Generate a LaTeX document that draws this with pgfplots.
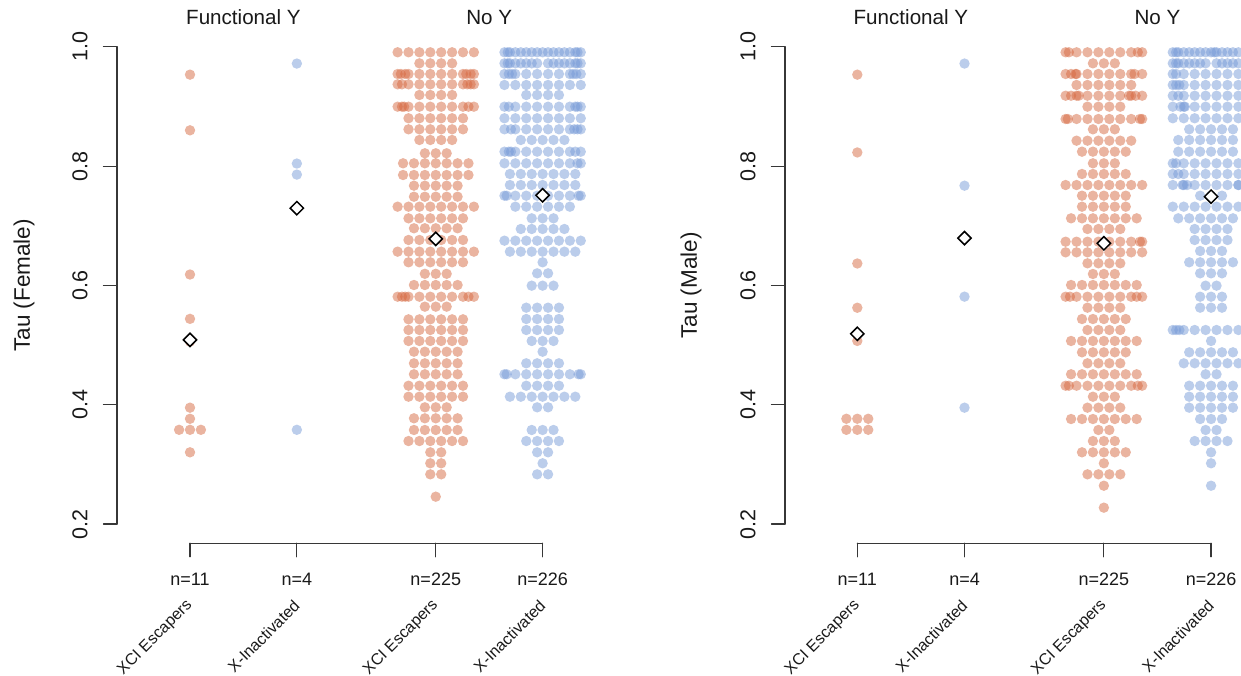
\documentclass[border=0pt]{standalone}
\usepackage{fontspec}
\setmainfont{Liberation Sans}
\usepackage{pgfplots}
\pgfplotsset{compat=1.18}
\definecolor{ora}{RGB}{214,105,65}
\definecolor{blu}{RGB}{120,155,215}
\definecolor{axc}{RGB}{55,55,55}
\definecolor{txt}{RGB}{25,25,25}
\pgfplotsset{
 panel/.style={scale only axis,width=620.5pt,height=675pt,ymin=-0.05297,ymax=1.07844,axis lines=none,clip marker paths=true},
 bee/.style={only marks,mark=*,mark size=5.2pt,mark options={draw opacity=0,line width=0pt,fill=#1,fill opacity=0.5}},
 grp/.style={x filter/.expression={#1+0.102*x}},
 meanmk/.style={only marks,mark=square*,mark size=4.7pt,mark options={rotate=45,fill=white,draw=black,line width=1.5pt}},
}
\tikzset{deco/.style={axc,line width=1.2pt,line cap=round}}
\newcommand\tfont{\fontsize{21.5pt}{24pt}\selectfont}
\newcommand\lfont{\fontsize{22.5pt}{26pt}\selectfont}
\newcommand\hfont{\fontsize{20.6pt}{24pt}\selectfont}
\newcommand\nfont{\fontsize{18pt}{20pt}\selectfont}
\newcommand\cfont{\fontsize{16pt}{18pt}\selectfont}
\begin{document}
\begin{tikzpicture}
%================ LEFT PANEL =================
\begin{axis}[panel,at={(0,0)},anchor=south west,xmin=-0.7782,xmax=5.0290]
\addplot[bee=ora,grp=1] coordinates {(0,.9533)(0,.8600)(0,.6183)(0,.5440)(0,.5060)(0,.3951)(0,.3765)(-1,.3580)(0,.3580)(1,.3580)(0,.3203)};
\addplot[bee=blu,grp=2] coordinates {(0,.9719)(0,.8043)(0,.7858)(0,.3580)};
\addplot[bee=ora,grp=3.3] coordinates {
(-3.5,.9908)(-2.5,.9908)(-1.5,.9908)(-.5,.9908)(.5,.9908)(1.5,.9908)(2.5,.9908)(3.5,.9908)
(-1.5,.9723)(-.5,.9723)(.5,.9723)(1.5,.9723)
(-3.5,.9544)(-2.5,.9544)(-1.5,.9544)(-.5,.9544)(.5,.9544)(1.5,.9544)(2.5,.9544)(3.5,.9544)(-3.2,.9544)(-2.8,.9544)(2.8,.9544)(3.2,.9544)
(-3.5,.9371)(-2.5,.9371)(-1.5,.9371)(-.5,.9371)(.5,.9371)(1.5,.9371)(2.5,.9371)(3.5,.9371)(-3.1,.9371)(2.9,.9371)(3.2,.9371)
(-1.5,.9192)(-.5,.9192)(.5,.9192)(1.5,.9192)
(-3.5,.8996)(-2.5,.8996)(-1.5,.8996)(-.5,.8996)(.5,.8996)(1.5,.8996)(2.5,.8996)(3.5,.8996)(-3.1,.8996)(-2.9,.8996)(3.0,.8996)
(-2.5,.8802)(-1.5,.8802)(-.5,.8802)(.5,.8802)(1.5,.8802)(2.5,.8802)
(-2.5,.8617)(-1.5,.8617)(-.5,.8617)(.5,.8617)(1.5,.8617)(2.5,.8617)
(-1.5,.8438)(-.5,.8438)(.5,.8438)(1.5,.8438)
(-1,.8215)(0,.8215)(1,.8215)
(-3,.8047)(-2,.8047)(-1,.8047)(0,.8047)(1,.8047)(2,.8047)(3,.8047)
(-3,.7851)(-2,.7851)(-1,.7851)(0,.7851)(1,.7851)(2,.7851)(3,.7851)
(-2,.7672)(-1,.7672)(0,.7672)(1,.7672)(2,.7672)
(-2,.7487)(-1,.7487)(0,.7487)(1,.7487)(2,.7487)
(-3.5,.7320)(-2.5,.7320)(-1.5,.7320)(-.5,.7320)(.5,.7320)(1.5,.7320)(2.5,.7320)(3.5,.7320)
(-2.5,.7125)(-1.5,.7125)(-.5,.7125)(.5,.7125)(1.5,.7125)(2.5,.7125)
(-2,.6958)(-1,.6958)(0,.6958)(1,.6958)(2,.6958)
(-2.5,.6762)(-1.5,.6762)(-.5,.6762)(.5,.6762)(1.5,.6762)(2.5,.6762)
(-3.5,.6566)(-2.5,.6566)(-1.5,.6566)(-.5,.6566)(.5,.6566)(1.5,.6566)(2.5,.6566)(3.5,.6566)
(-2.5,.6388)(-1.5,.6388)(-.5,.6388)(.5,.6388)(1.5,.6388)(2.5,.6388)
(-1,.6195)(0,.6195)(1,.6195)
(-2,.6007)(-1,.6007)(0,.6007)(1,.6007)(2,.6007)
(-3.5,.5811)(-2.5,.5811)(-1.5,.5811)(-.5,.5811)(.5,.5811)(1.5,.5811)(2.5,.5811)(3.5,.5811)(-3.1,.5811)(-2.8,.5811)(3.0,.5811)
(-1,.5644)(0,.5644)(1,.5644)
(-2.5,.5432)(-1.5,.5432)(-.5,.5432)(.5,.5432)(1.5,.5432)(2.5,.5432)
(-2.5,.5253)(-1.5,.5253)(-.5,.5253)(.5,.5253)(1.5,.5253)(2.5,.5253)
(-2.5,.5069)(-1.5,.5069)(-.5,.5069)(.5,.5069)(1.5,.5069)(2.5,.5069)
(-2,.4889)(-1,.4889)(0,.4889)(1,.4889)(2,.4889)
(-2,.4695)(-1,.4695)(0,.4695)(1,.4695)(2,.4695)
(-2,.4511)(-1,.4511)(0,.4511)(1,.4511)(2,.4511)
(-2.5,.4319)(-1.5,.4319)(-.5,.4319)(.5,.4319)(1.5,.4319)(2.5,.4319)
(-2.5,.4135)(-1.5,.4135)(-.5,.4135)(.5,.4135)(1.5,.4135)(2.5,.4135)
(-1,.3957)(0,.3957)(1,.3957)
(-2,.3773)(-1,.3773)(0,.3773)(1,.3773)(2,.3773)
(-2,.3577)(-1,.3577)(0,.3577)(1,.3577)(2,.3577)
(-2.5,.3392)(-1.5,.3392)(-.5,.3392)(.5,.3392)(1.5,.3392)(2.5,.3392)
(-.5,.3203)(.5,.3203)
(-.5,.3019)(.5,.3019)
(-.5,.2834)(.5,.2834)
(0,.2459)
};
\addplot[bee=blu,grp=4.3] coordinates {
(-3.5,.9908)(-2.5,.9908)(-1.5,.9908)(-.5,.9908)(.5,.9908)(1.5,.9908)(2.5,.9908)(3.5,.9908)(-3,.9908)(-2,.9908)(-1,.9908)(0,.9908)(1,.9908)(2,.9908)(3,.9908)(-3.2,.9908)(3.2,.9908)
(-3.5,.9723)(-2.5,.9723)(-1.5,.9723)(-.5,.9723)(.5,.9723)(1.5,.9723)(2.5,.9723)(3.5,.9723)(-3,.9723)(-2,.9723)(-1,.9723)(1,.9723)(2,.9723)(3,.9723)(-3.2,.9723)(3.2,.9723)
(-3.5,.9544)(-2.5,.9544)(-1.5,.9544)(-.5,.9544)(.5,.9544)(1.5,.9544)(2.5,.9544)(3.5,.9544)(-3.1,.9544)(-2.8,.9544)(2.8,.9544)(3.1,.9544)
(-3.5,.9360)(-2.5,.9360)(-1.5,.9360)(-.5,.9360)(.5,.9360)(1.5,.9360)(2.5,.9360)(3.5,.9360)
(-1.5,.9192)(-.5,.9192)(.5,.9192)(1.5,.9192)
(-3.5,.8996)(-2.5,.8996)(-1.5,.8996)(-.5,.8996)(.5,.8996)(1.5,.8996)(2.5,.8996)(3.5,.8996)(-3.1,.8996)(3.0,.8996)(3.2,.8996)
(-3.5,.8802)(-2.5,.8802)(-1.5,.8802)(-.5,.8802)(.5,.8802)(1.5,.8802)(2.5,.8802)(3.5,.8802)
(-3.5,.8617)(-2.5,.8617)(-1.5,.8617)(-.5,.8617)(.5,.8617)(1.5,.8617)(2.5,.8617)(3.5,.8617)(-2.9,.8617)(2.9,.8617)(3.2,.8617)
(-2,.8438)(-1,.8438)(0,.8438)(1,.8438)(2,.8438)
(-3.5,.8242)(-2.5,.8242)(-1.5,.8242)(-.5,.8242)(.5,.8242)(1.5,.8242)(2.5,.8242)(3.5,.8242)(-3.1,.8242)(-2.9,.8242)(3.0,.8242)
(-3.5,.8047)(-2.5,.8047)(-1.5,.8047)(-.5,.8047)(.5,.8047)(1.5,.8047)(2.5,.8047)(3.5,.8047)(3.2,.8047)
(-3,.7868)(-2,.7868)(-1,.7868)(0,.7868)(1,.7868)(2,.7868)(3,.7868)
(-3,.7683)(-2,.7683)(-1,.7683)(0,.7683)(1,.7683)(2,.7683)(3,.7683)
(-3.5,.7504)(-2.5,.7504)(-1.5,.7504)(-.5,.7504)(.5,.7504)(1.5,.7504)(2.5,.7504)(3.5,.7504)(-3.3,.7504)(3.3,.7504)
(-2.5,.7320)(-1.5,.7320)(-.5,.7320)(.5,.7320)(1.5,.7320)(2.5,.7320)
(-1,.7125)(0,.7125)(1,.7125)
(-2,.6946)(-1,.6946)(0,.6946)(1,.6946)(2,.6946)
(-3.5,.6750)(-2.5,.6750)(-1.5,.6750)(-.5,.6750)(.5,.6750)(1.5,.6750)(2.5,.6750)(3.5,.6750)
(-3,.6566)(-2,.6566)(-1,.6566)(0,.6566)(1,.6566)(2,.6566)(3,.6566)
(0,.6388)
(-.5,.6203)(.5,.6203)
(-1,.5996)(0,.5996)(1,.5996)
(-1.5,.5627)(-.5,.5627)(.5,.5627)(1.5,.5627)
(-1.5,.5437)(-.5,.5437)(.5,.5437)(1.5,.5437)
(-1.5,.5253)(-.5,.5253)(.5,.5253)(1.5,.5253)
(-1,.5069)(0,.5069)(1,.5069)
(0,.4889)
(-1.5,.4695)(-.5,.4695)(.5,.4695)(1.5,.4695)
(-3.5,.4511)(-2.5,.4511)(-1.5,.4511)(-.5,.4511)(.5,.4511)(1.5,.4511)(2.5,.4511)(3.5,.4511)(-3.3,.4511)(3.3,.4511)
(-1.5,.4319)(-.5,.4319)(.5,.4319)(1.5,.4319)
(-3,.4135)(-2,.4135)(-1,.4135)(0,.4135)(1,.4135)(2,.4135)(3,.4135)
(-.5,.3957)(.5,.3957)
(-1,.3577)(0,.3577)(1,.3577)
(-1.5,.3392)(-.5,.3392)(.5,.3392)(1.5,.3392)
(-.5,.3203)(.5,.3203)
(0,.3019)
(-.5,.2834)(.5,.2834)
};
\addplot[meanmk] coordinates {(1,.5088)(2,.7295)(3.3,.678)(4.3,.7511)};
% y axis
\draw[deco] (axis cs:0.3168,0.2) -- (axis cs:0.3168,1);
\pgfplotsinvokeforeach{0.2,0.4,0.6,0.8,1.0}{
 \draw[deco] (axis cs:0.1905,#1) -- (axis cs:0.3168,#1);
 \node[txt,rotate=90,font=\tfont,inner sep=0pt] at (axis cs:-0.0295,#1) {#1};
}
\node[txt,rotate=90,font=\lfont,inner sep=0pt] at (axis cs:-0.5536,0.6) {Tau (Female)};
% x axis
\draw[deco] (axis cs:1,0.1678) -- (axis cs:4.3,0.1678);
\pgfplotsinvokeforeach{1,2,3.3,4.3}{
 \draw[deco] (axis cs:#1,0.1678) -- (axis cs:#1,0.1453);
}
\node[txt,font=\nfont,inner sep=0pt] at (axis cs:1,0.1071) {n=11};
\node[txt,font=\nfont,inner sep=0pt] at (axis cs:2,0.1071) {n=4};
\node[txt,font=\nfont,inner sep=0pt] at (axis cs:3.3,0.1071) {n=225};
\node[txt,font=\nfont,inner sep=0pt] at (axis cs:4.3,0.1071) {n=226};
\node[txt,font=\cfont,rotate=45,anchor=east,inner sep=0pt] at (axis cs:1,0.0678) {XCI Escapers};
\node[txt,font=\cfont,rotate=45,anchor=east,inner sep=0pt] at (axis cs:2,0.0678) {X-Inactivated};
\node[txt,font=\cfont,rotate=45,anchor=east,inner sep=0pt] at (axis cs:3.3,0.0678) {XCI Escapers};
\node[txt,font=\cfont,rotate=45,anchor=east,inner sep=0pt] at (axis cs:4.3,0.0678) {X-Inactivated};
\node[txt,font=\hfont,inner sep=0pt] at (axis cs:1.5,1.0491) {Functional Y};
\node[txt,font=\hfont,inner sep=0pt] at (axis cs:3.8,1.0491) {No Y};
\end{axis}
%================ RIGHT PANEL =================
\begin{axis}[panel,at={(620.5pt,0)},anchor=south west,xmin=-1.2090,xmax=4.5793]
\addplot[bee=ora,grp=1] coordinates {(0,.9533)(0,.8229)(0,.6368)(0,.5626)(0,.5070)(-1,.3765)(0,.3765)(1,.3765)(-1,.3580)(0,.3580)(1,.3580)};
\addplot[bee=blu,grp=2] coordinates {(0,.9719)(0,.7672)(0,.5812)(0,.3951)};
\addplot[bee=ora,grp=3.3] coordinates {
(-3.5,.9908)(-2.5,.9908)(-1.5,.9908)(-.5,.9908)(.5,.9908)(1.5,.9908)(2.5,.9908)(3.5,.9908)(-3.2,.9908)(3.1,.9908)
(-1,.9723)(0,.9723)(1,.9723)
(-3.5,.9544)(-2.5,.9544)(-1.5,.9544)(-.5,.9544)(.5,.9544)(1.5,.9544)(2.5,.9544)(3.5,.9544)(-3.0,.9544)(-2.6,.9544)(2.8,.9544)
(-2.5,.9360)(-1.5,.9360)(-.5,.9360)(.5,.9360)(1.5,.9360)(2.5,.9360)
(-3.5,.9180)(-2.5,.9180)(-1.5,.9180)(-.5,.9180)(.5,.9180)(1.5,.9180)(2.5,.9180)(3.5,.9180)(-3.0,.9180)(-2.3,.9180)(2.3,.9180)(2.9,.9180)
(-1.5,.8996)(-.5,.8996)(.5,.8996)(1.5,.8996)
(-3.5,.8790)(-2.5,.8790)(-1.5,.8790)(-.5,.8790)(.5,.8790)(1.5,.8790)(2.5,.8790)(3.5,.8790)(-3.3,.8790)(3.3,.8790)
(-1,.8617)(0,.8617)(1,.8617)
(-2.5,.8426)(-1.5,.8426)(-.5,.8426)(.5,.8426)(1.5,.8426)(2.5,.8426)
(-2,.8242)(-1,.8242)(0,.8242)(1,.8242)(2,.8242)
(-1,.8047)(0,.8047)(1,.8047)
(-2,.7868)(-1,.7868)(0,.7868)(1,.7868)(2,.7868)
(-3.5,.7683)(-2.5,.7683)(-1.5,.7683)(-.5,.7683)(.5,.7683)(1.5,.7683)(2.5,.7683)(3.5,.7683)
(-2,.7504)(-1,.7504)(0,.7504)(1,.7504)(2,.7504)
(-2,.7320)(-1,.7320)(0,.7320)(1,.7320)(2,.7320)
(-3,.7125)(-2,.7125)(-1,.7125)(0,.7125)(1,.7125)(2,.7125)(3,.7125)
(-1.5,.6946)(-.5,.6946)(.5,.6946)(1.5,.6946)
(-3.5,.6733)(-2.5,.6733)(-1.5,.6733)(-.5,.6733)(.5,.6733)(1.5,.6733)(2.5,.6733)(3.5,.6733)(3.3,.6733)
(-3.5,.6555)(-2.5,.6555)(-1.5,.6555)(-.5,.6555)(.5,.6555)(1.5,.6555)(2.5,.6555)(3.5,.6555)
(-1.5,.6371)(-.5,.6371)(.5,.6371)(1.5,.6371)
(-1,.6192)(0,.6192)(1,.6192)
(-3,.6007)(-2,.6007)(-1,.6007)(0,.6007)(1,.6007)(2,.6007)(3,.6007)
(-3.5,.5811)(-2.5,.5811)(-1.5,.5811)(-.5,.5811)(.5,.5811)(1.5,.5811)(2.5,.5811)(3.5,.5811)(-3.1,.5811)(3.0,.5811)
(-1.5,.5627)(-.5,.5627)(.5,.5627)(1.5,.5627)
(-2,.5437)(-1,.5437)(0,.5437)(1,.5437)(2,.5437)
(-1.5,.5253)(-.5,.5253)(.5,.5253)(1.5,.5253)
(-3,.5069)(-2,.5069)(-1,.5069)(0,.5069)(1,.5069)(2,.5069)(3,.5069)
(-2,.4879)(-1,.4879)(0,.4879)(1,.4879)(2,.4879)
(-1.5,.4695)(-.5,.4695)(.5,.4695)(1.5,.4695)
(-3,.4511)(-2,.4511)(-1,.4511)(0,.4511)(1,.4511)(2,.4511)(3,.4511)
(-3.5,.4319)(-2.5,.4319)(-1.5,.4319)(-.5,.4319)(.5,.4319)(1.5,.4319)(2.5,.4319)(3.5,.4319)(-3.2,.4319)(3.1,.4319)
(-1,.4135)(0,.4135)(1,.4135)
(-1.5,.3951)(-.5,.3951)(.5,.3951)(1.5,.3951)
(-3,.3761)(-2,.3761)(-1,.3761)(0,.3761)(1,.3761)(2,.3761)(3,.3761)
(-.5,.3577)(.5,.3577)
(-1,.3392)(0,.3392)(1,.3392)
(-2,.3203)(-1,.3203)(0,.3203)(1,.3203)(2,.3203)
(0,.3019)
(-1.5,.2834)(-.5,.2834)(.5,.2834)(1.5,.2834)
(0,.2643)
(0,.2275)
};
\addplot[bee=blu,grp=4.3] coordinates {
(-3.5,.9908)(-2.5,.9908)(-1.5,.9908)(-.5,.9908)(.5,.9908)(1.5,.9908)(2.5,.9908)(3.5,.9908)(-3,.9908)(-2,.9908)(-1,.9908)(0,.9908)(1,.9908)(2,.9908)(3,.9908)(-3.2,.9908)(3.2,.9908)(.3,.9908)
(-3.5,.9723)(-2.5,.9723)(-1.5,.9723)(-.5,.9723)(.5,.9723)(1.5,.9723)(2.5,.9723)(3.5,.9723)(-3,.9723)(-2,.9723)(-1,.9723)(1,.9723)(2,.9723)(3,.9723)(-3.2,.9723)(3.2,.9723)
(-3.5,.9544)(-2.5,.9544)(-1.5,.9544)(-.5,.9544)(.5,.9544)(1.5,.9544)(2.5,.9544)(3.5,.9544)(-3.2,.9544)
(-3.5,.9360)(-2.5,.9360)(-1.5,.9360)(-.5,.9360)(.5,.9360)(1.5,.9360)(2.5,.9360)(3.5,.9360)(-3.2,.9360)(-2.9,.9360)
(-3.5,.9180)(-2.5,.9180)(-1.5,.9180)(-.5,.9180)(.5,.9180)(1.5,.9180)(2.5,.9180)(3.5,.9180)(-3.0,.9180)
(-3.5,.8996)(-2.5,.8996)(-1.5,.8996)(-.5,.8996)(.5,.8996)(1.5,.8996)(2.5,.8996)(3.5,.8996)(-2.8,.8996)(-2.4,.8996)
(-3.5,.8802)(-2.5,.8802)(-1.5,.8802)(-.5,.8802)(.5,.8802)(1.5,.8802)(2.5,.8802)(3.5,.8802)
(-2,.8617)(-1,.8617)(0,.8617)(1,.8617)(2,.8617)
(-3,.8438)(-2,.8438)(-1,.8438)(0,.8438)(1,.8438)(2,.8438)(3,.8438)
(-3,.8242)(-2,.8242)(-1,.8242)(0,.8242)(1,.8242)(2,.8242)(3,.8242)
(-3.5,.8047)(-2.5,.8047)(-1.5,.8047)(-.5,.8047)(.5,.8047)(1.5,.8047)(2.5,.8047)(3.5,.8047)(-3.2,.8047)(3.2,.8047)
(-3.5,.7868)(-2.5,.7868)(-1.5,.7868)(-.5,.7868)(.5,.7868)(1.5,.7868)(2.5,.7868)(3.5,.7868)(-3.0,.7868)(3.1,.7868)
(-3.5,.7683)(-2.5,.7683)(-1.5,.7683)(-.5,.7683)(.5,.7683)(1.5,.7683)(2.5,.7683)(3.5,.7683)(-2.6,.7683)(-2.2,.7683)(2.5,.7683)
(-1,.7504)(0,.7504)(1,.7504)
(-3.5,.7320)(-2.5,.7320)(-1.5,.7320)(-.5,.7320)(.5,.7320)(1.5,.7320)(2.5,.7320)(3.5,.7320)
(-3,.7125)(-2,.7125)(-1,.7125)(0,.7125)(1,.7125)(2,.7125)(3,.7125)
(-1.5,.6946)(-.5,.6946)(.5,.6946)(1.5,.6946)
(-1.5,.6761)(-.5,.6761)(.5,.6761)(1.5,.6761)
(-1,.6577)(0,.6577)(1,.6577)
(-2,.6388)(-1,.6388)(0,.6388)(1,.6388)(2,.6388)
(-1,.6203)(0,.6203)(1,.6203)
(-.5,.5996)(.5,.5996)
(-1,.5811)(0,.5811)(1,.5811)
(-1,.5627)(0,.5627)(1,.5627)
(-3.5,.5253)(-2.5,.5253)(-1.5,.5253)(-.5,.5253)(.5,.5253)(1.5,.5253)(2.5,.5253)(3.5,.5253)(-3.2,.5253)(-2.9,.5253)
(0,.5069)
(-2,.4879)(-1,.4879)(0,.4879)(1,.4879)(2,.4879)
(-2.5,.4695)(-1.5,.4695)(-.5,.4695)(.5,.4695)(1.5,.4695)(2.5,.4695)
(-.5,.4511)(.5,.4511)
(-2,.4319)(-1,.4319)(0,.4319)(1,.4319)(2,.4319)
(-2,.4135)(-1,.4135)(0,.4135)(1,.4135)(2,.4135)
(-2,.3951)(-1,.3951)(0,.3951)(1,.3951)(2,.3951)
(-1,.3761)(0,.3761)(1,.3761)
(-.5,.3577)(.5,.3577)
(-1.5,.3392)(-.5,.3392)(.5,.3392)(1.5,.3392)
(0,.3203)
(0,.3019)
(0,.2643)
};
\addplot[meanmk] coordinates {(1,.5189)(2,.6793)(3.3,.6706)(4.3,.7488)};
% y axis
\draw[deco] (axis cs:0.3256,0.2) -- (axis cs:0.3256,1);
\pgfplotsinvokeforeach{0.2,0.4,0.6,0.8,1.0}{
 \draw[deco] (axis cs:0.1996,#1) -- (axis cs:0.3256,#1);
 \node[txt,rotate=90,font=\tfont,inner sep=0pt] at (axis cs:-0.0196,#1) {#1};
}
\node[txt,rotate=90,font=\lfont,inner sep=0pt] at (axis cs:-0.5513,0.6) {Tau (Male)};
% x axis
\draw[deco] (axis cs:1,0.1678) -- (axis cs:4.3,0.1678);
\pgfplotsinvokeforeach{1,2,3.3,4.3}{
 \draw[deco] (axis cs:#1,0.1678) -- (axis cs:#1,0.1453);
}
\node[txt,font=\nfont,inner sep=0pt] at (axis cs:1,0.1071) {n=11};
\node[txt,font=\nfont,inner sep=0pt] at (axis cs:2,0.1071) {n=4};
\node[txt,font=\nfont,inner sep=0pt] at (axis cs:3.3,0.1071) {n=225};
\node[txt,font=\nfont,inner sep=0pt] at (axis cs:4.3,0.1071) {n=226};
\node[txt,font=\cfont,rotate=45,anchor=east,inner sep=0pt] at (axis cs:1,0.0678) {XCI Escapers};
\node[txt,font=\cfont,rotate=45,anchor=east,inner sep=0pt] at (axis cs:2,0.0678) {X-Inactivated};
\node[txt,font=\cfont,rotate=45,anchor=east,inner sep=0pt] at (axis cs:3.3,0.0678) {XCI Escapers};
\node[txt,font=\cfont,rotate=45,anchor=east,inner sep=0pt] at (axis cs:4.3,0.0678) {X-Inactivated};
\node[txt,font=\hfont,inner sep=0pt] at (axis cs:1.5,1.0491) {Functional Y};
\node[txt,font=\hfont,inner sep=0pt] at (axis cs:3.8,1.0491) {No Y};
\end{axis}
\pgfresetboundingbox
\useasboundingbox (0,0) rectangle (1241pt,675pt);
\end{tikzpicture}
\end{document}
